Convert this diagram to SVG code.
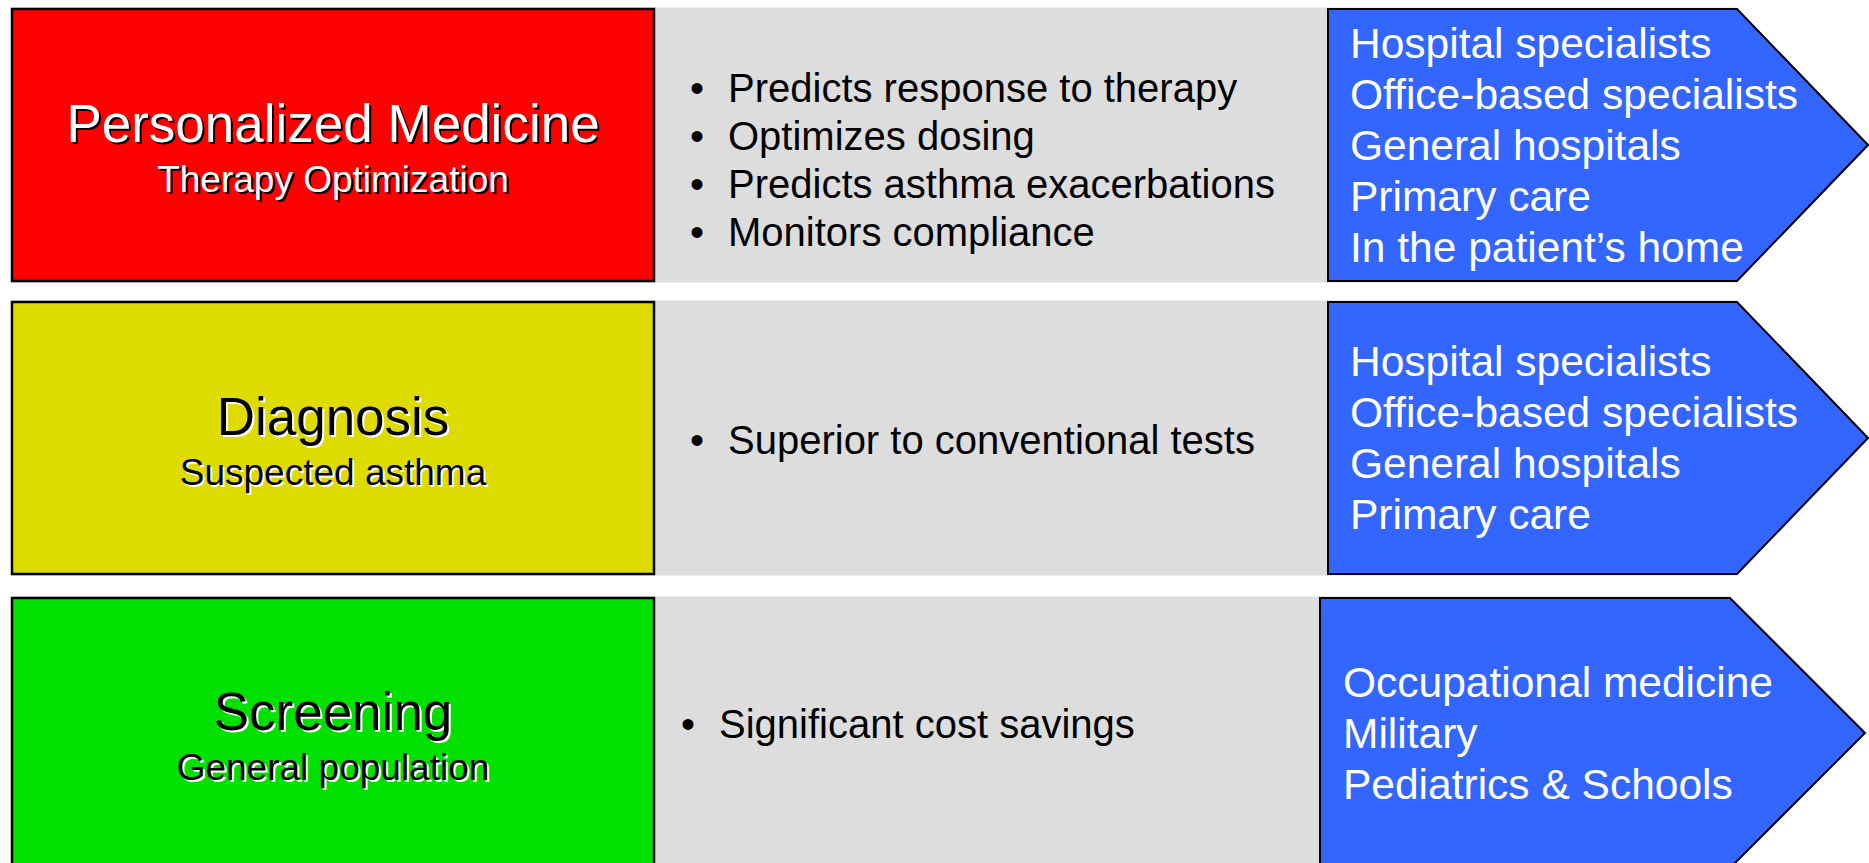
<svg xmlns="http://www.w3.org/2000/svg" width="1869" height="863" viewBox="0 0 1869 863">
<style>
text{font-family:"Liberation Sans",Arial,sans-serif}
.band{fill:#dddddd}
.box{stroke:#000;stroke-width:2.5}
.arrow{fill:#3366ff;stroke:#000;stroke-width:2}
.title{font-size:53px;text-anchor:middle}
.sub{font-size:37px;text-anchor:middle}
.mid{font-size:40px;fill:#000}
.blue{font-size:42.5px;fill:#fff}
</style>
<rect width="1869" height="863" fill="#fff"/>
<g id="row1">
<rect class="band" x="11" y="7.5" width="1727" height="275"/>
<rect class="box" x="12" y="9" width="642" height="272" fill="#ff0000"/>
<text class="title" x="335" y="144" fill="#000">Personalized Medicine</text>
<text class="title" x="333" y="142" fill="#fff">Personalized Medicine</text>
<text class="sub" x="335" y="194" fill="#000">Therapy Optimization</text>
<text class="sub" x="333" y="192" fill="#fff">Therapy Optimization</text>
<text class="mid" x="690" y="102">•</text><text class="mid" x="728" y="102">Predicts response to therapy</text>
<text class="mid" x="690" y="150">•</text><text class="mid" x="728" y="150">Optimizes dosing</text>
<text class="mid" x="690" y="198">•</text><text class="mid" x="728" y="198">Predicts asthma exacerbations</text>
<text class="mid" x="690" y="246">•</text><text class="mid" x="728" y="246">Monitors compliance</text>
<polygon class="arrow" points="1328,9 1737,9 1868,145 1737,281 1328,281"/>
<text class="blue" x="1350" y="58">Hospital specialists</text>
<text class="blue" x="1350" y="109">Office-based specialists</text>
<text class="blue" x="1350" y="160">General hospitals</text>
<text class="blue" x="1350" y="211">Primary care</text>
<text class="blue" x="1350" y="262">In the patient’s home</text>
</g>
<g id="row2">
<rect class="band" x="11" y="300.5" width="1727" height="275"/>
<rect class="box" x="12" y="302" width="642" height="272" fill="#dddb00"/>
<text class="title" x="335" y="437" fill="#fff">Diagnosis</text>
<text class="title" x="333" y="435" fill="#000">Diagnosis</text>
<text class="sub" x="335" y="487" fill="#fff">Suspected asthma</text>
<text class="sub" x="333" y="485" fill="#000">Suspected asthma</text>
<text class="mid" x="690" y="454">•</text><text class="mid" x="728" y="454">Superior to conventional tests</text>
<polygon class="arrow" points="1328,302 1737,302 1868,438 1737,574 1328,574"/>
<text class="blue" x="1350" y="376">Hospital specialists</text>
<text class="blue" x="1350" y="427">Office-based specialists</text>
<text class="blue" x="1350" y="478">General hospitals</text>
<text class="blue" x="1350" y="529">Primary care</text>
</g>
<g id="row3">
<rect class="band" x="11" y="596.5" width="1720" height="275"/>
<rect class="box" x="12" y="598" width="642" height="272" fill="#00e100"/>
<text class="title" x="335" y="732" fill="#fff">Screening</text>
<text class="title" x="333" y="730" fill="#000">Screening</text>
<text class="sub" x="335" y="782" fill="#fff">General population</text>
<text class="sub" x="333" y="780" fill="#000">General population</text>
<text class="mid" x="681" y="738">•</text><text class="mid" x="719" y="738">Significant cost savings</text>
<polygon class="arrow" points="1320,598 1730,598 1865,733 1730,868 1320,868"/>
<text class="blue" x="1343" y="697">Occupational medicine</text>
<text class="blue" x="1343" y="748">Military</text>
<text class="blue" x="1343" y="799">Pediatrics &amp; Schools</text>
</g>
<g id="connectors"/>
</svg>
